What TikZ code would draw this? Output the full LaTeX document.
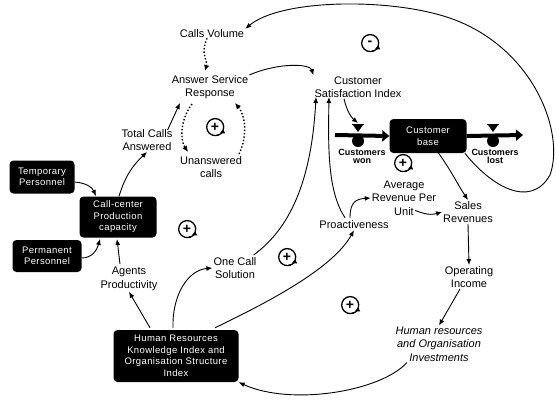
\documentclass[tikz,border=0pt]{standalone}
\usepackage{fontspec}
\setmainfont{Liberation Sans}
\usetikzlibrary{arrows.meta}

\begin{document}
\begin{tikzpicture}[x=1pt,y=-1pt,
    lbl/.style={align=center, inner sep=1pt, font=\fontsize{11}{13.5}\selectfont},
    blackbox/.style={fill=black, text=white, rounded corners=4pt, align=center, inner sep=2pt, font=\addfontfeature{LetterSpace=4}\fontsize{9.5}{11.5}\selectfont},
    flowlbl/.style={align=center, inner sep=0pt, font=\bfseries\fontsize{9}{8}\selectfont},
    link/.style={line width=0.9pt, -{Latex[length=6pt,width=5pt]}},
    dotlink/.style={line width=1.4pt, dotted, -{Latex[length=6pt,width=5.5pt]}},
    pipe/.style={line width=4pt, -{Triangle[length=7pt,width=11pt]}},
    loopmark/.style={circle, inner sep=0pt, minimum size=17pt, font=\bfseries\fontsize{14}{14}\selectfont},
    looptip/.style={line width=1.3pt, -{Latex[length=4.5pt,width=5.5pt]}},
  ]
    \useasboundingbox (0,0) rectangle (556,400);

    % variables
    \node[lbl] (cv)     at (212,34)  {Calls Volume};
    \node[lbl] (asr)    at (210,87)  {Answer Service\\Response};
    \node[lbl] (tca)    at (147,140) {Total Calls\\Answered};
    \node[lbl] (unans)  at (211,167) {Unanswered\\calls};
    \node[lbl] (csi)    at (358,87)  {Customer\\Satisfaction Index};
    \node[lbl] (agents) at (129,279) {Agents\\Productivity};
    \node[lbl] (onecall) at (235,268) {One Call\\Solution};
    \node[lbl] (proact) at (354,225) {Proactiveness};
    \node[lbl] (arpu)   at (404,198) {Average\\Revenue Per\\Unit};
    \node[lbl] (sales)  at (468,212) {Sales\\Revenues};
    \node[lbl] (opinc)  at (469,277) {Operating\\Income};
    \node[lbl, font=\itshape\fontsize{11}{13.5}\selectfont] (invest) at (439,344) {Human resources\\and Organisation\\Investments};

    % black boxes
    \node[blackbox, minimum width=65pt, minimum height=33pt] (temp) at (42,177)  {Temporary\\Personnel};
    \node[blackbox, minimum width=77pt, minimum height=41pt] (ccpc) at (118,217) {Call-center\\Production\\capacity};
    \node[blackbox, minimum width=69pt, minimum height=32pt] (perm) at (47,256)  {Permanent\\Personnel};
    \node[blackbox, minimum width=125pt, minimum height=52pt] (hr) at (176,356) {Human Resources\\Knowledge Index and\\Organisation Structure\\Index};
    \node[blackbox, minimum width=77pt, minimum height=34pt] (base) at (428,136) {Customer\\base};

    % flows
    \coordinate (wonsrc) at (335,135);
    \coordinate (lostend) at (523,135);
    \draw[pipe] (wonsrc) -- (base.west);
    \draw[pipe] (base.east) -- (lostend);
    \foreach \v/\vx in {wonv/358,lostv/493} {
        \fill (\vx-5,125) -- (\vx+5,125) -- (\vx,132) -- cycle;
        \draw[line width=0.9pt] (\vx-6,124.5) -- (\vx+6,124.5);
        \node[circle, fill, minimum size=12pt, inner sep=0pt] (\v) at (\vx,141) {};
    }
    \node[flowlbl] (won)  at (362,156) {Customers\\won};
    \node[flowlbl] (lost) at (495,156) {Customers\\lost};
    \coordinate (wontop) at (358,123);

    % loop signs
    \foreach \nm/\px/\py/\sg in {la/215/127/+,lb/187/229/+,lc/287/257/+,ld/350/305/+,le/403/163/+,lf/370/43/-} {
        \node[loopmark] (\nm) at (\px,\py) {\sg};
        \draw[line width=1.3pt] (\nm.-20) arc[start angle=-20, end angle=295, radius=8.5pt];
        \draw[looptip] (\nm.-75) arc[start angle=-75, end angle=-10, radius=8.5pt];
    }

    % links
    \draw[dotlink] (cv.south) ++(-5,-1) .. controls (200,55) and (208,60) .. (205,71);
    \draw[link] (asr.north east) ++(0,1) .. controls (280,62) and (310,64) .. (csi.north west);
    \draw[link] (tca.north east) ++(-6,2) -- (180,103);
    \draw[dotlink] (192,104) .. controls (180,120) and (180,140) .. (188,152);
    \draw[dotlink] (unans.north east) ++(-4,-1) .. controls (248,135) and (245,115) .. (235,103);
    \draw[link] (temp.east) ++(0,5) .. controls (86,183) and (92,187) .. (96,196);
    \draw[link] (ccpc.north) ++(1,0) .. controls (124,180) and (130,168) .. (tca.south);
    \draw[link] (perm.east) ++(0,2) .. controls (92,258) and (97,250) .. (100,239);
    \draw[link] (agents.north) ++(-9,-2) -- (117,239);
    \draw[link] (hr.north) ++(-26,-2) -- (agents.south);
    \draw[link] (hr.north) ++(-3,-2) .. controls (172,295) and (188,270) .. (onecall.west);
    \draw[link] (onecall.north east) ++(-4,-1) .. controls (285,232) and (311,190) .. (316,97);
    \draw[link] (proact.north) ++(-9,-2) .. controls (328,192) and (328,150) .. (329,97);
    \draw[link] (hr.north) ++(39,-2) .. controls (262,305) and (332,270) .. (proact.south);
    \draw[link] (proact.north) ++(-4,-2) .. controls (350,202) and (356,199) .. (arpu.west);
    \draw[link] (arpu.south east) ++(-22,-6) .. controls (420,212) and (428,216) .. (sales.west);
    \draw[link] (base.-60) ++(0,-1) .. controls (452,172) and (458,185) .. (sales.north);
    \draw[link] (sales.south) -- (opinc.north);
    \draw[link] (opinc.south) ++(-9,0) -- (invest.north);
    \draw[link] (invest.south) ++(-32,0) .. controls (380,392) and (290,406) .. (hr.south east);
    \draw[link] (csi.south) ++(-14,0) .. controls (347,112) and (352,118) .. (wontop);
    \draw[link] (base.-25) .. controls (490,185) and (530,210) .. (550,175)
        .. controls (566,130) and (530,40) .. (440,15)
        .. controls (380,-2) and (280,0) .. (cv.north east);

\end{tikzpicture}
\end{document}
